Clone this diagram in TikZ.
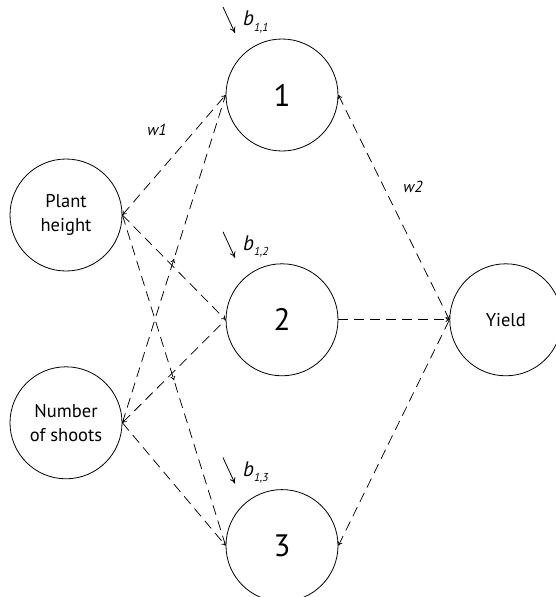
\documentclass[tikz,border=0pt]{standalone}
\usepackage{fontspec}
\setmainfont{PT Sans}
\usetikzlibrary{positioning,calc,arrows.meta,decorations.markings}

\begin{document}
\begin{tikzpicture}[
    x=1pt, y=-1pt,
    node distance=95pt,
    neuron/.style={draw, circle, line width=0.8pt, minimum size=112pt, inner sep=0pt, align=center, font=\fontsize{18.5}{24}\selectfont},
    hidden/.style={neuron, font=\fontsize{31}{31}\selectfont},
    conn/.style={line width=0.75pt, dash pattern=on 10pt off 6pt, >={To[length=4pt,width=5pt]}},
    mid/.style={postaction={decorate}, decoration={markings, mark=at position 0.5 with {\arrow{To[length=4pt,width=5pt]}}}},
    biasarrow/.style={-{To[length=6pt,width=6pt]}, line width=0.8pt},
    blabel/.style={anchor=west, inner sep=0pt, font=\fontsize{21}{21}\selectfont\itshape},
    wlabel/.style={font=\fontsize{16}{16}\selectfont\itshape},
]
    \useasboundingbox (0,0) rectangle (556,597);

    % inputs
    \node[neuron] (ph) at (66,215) {Plant\\height};
    \node[neuron, below=of ph] (ns) {Number\\of shoots};

    % hidden layer
    \node[hidden] (h1) at (282,95) {1};
    \node[hidden, below=112pt of h1] (h2) {2};
    \node[hidden, below=113pt of h2] (h3) {3};

    % output
    \node[neuron, right=111pt of h2] (y) {Yield};

    % biases
    \foreach \i in {1,2,3} {
        \coordinate (bs\i) at ($(h\i)+(-59,-88)$);
        \coordinate (be\i) at ($(h\i)+(-47,-62)$);
        \draw[biasarrow] (bs\i) -- (be\i);
        \node[blabel] (bl\i) at ($(h\i)+(-39,-73)$) {b\raisebox{-0.5ex}{\fontsize{11.5}{11.5}\selectfont 1,\i}};
    }

    % input -> hidden
    \draw[conn, <->] (ph.east) -- (h1.west);
    \draw[conn, ->] (ph.east) -- (h2.west);
    \draw[conn, mid] (ph.east) -- (h3.west);
    \draw[conn, mid] (ns.east) -- (h1.west);
    \draw[conn, <-] (ns.east) -- (h2.west);
    \draw[conn, ->] (ns.east) -- (h3.west);

    % hidden -> output
    \draw[conn, <->] (h1.east) -- (y.west);
    \draw[conn, ->] (h2.east) -- (y.west);
    \draw[conn, <-] (h3.east) -- (y.west);

    % weights
    \node[wlabel] (w1) at (157,130) {w1};
    \node[wlabel] (w2) at (413,187) {w2};
\end{tikzpicture}
\end{document}
